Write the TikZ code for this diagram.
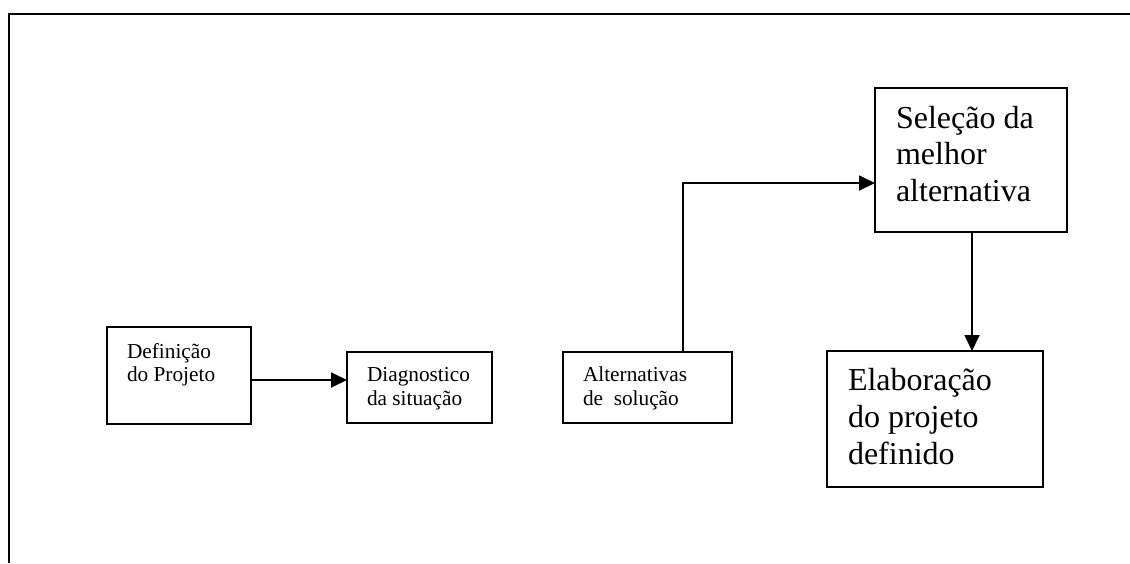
\documentclass[tikz,border=0pt]{standalone}
\usepackage{fontspec}
\setmainfont{Liberation Serif}
\usetikzlibrary{arrows.meta}
\tikzset{
  box/.style={draw, line width=1.8pt, inner sep=0pt, outer sep=0pt, rectangle},
  lbl/.style={anchor=base west, inner sep=0pt, outer sep=0pt},
  smalltxt/.style={font=\fontsize{21.3}{23.5}\selectfont},
  bigtxt/.style={font=\fontsize{32}{36.7}\selectfont},
  conn/.style={line width=1.8pt, -{Triangle[length=16pt,width=15pt]}},
  frame/.style={line width=2.5pt}
}
\newcommand{\tlines}[1]{\begin{tabular}[t]{@{}l@{}}#1\end{tabular}}
\begin{document}
\begin{tikzpicture}[x=1pt,y=-1pt]
\useasboundingbox (0,0) rectangle (1130,563);
% frame
\coordinate (ftr) at (1130,14);
\coordinate (fbl) at (9,563);
\draw[frame] (fbl) |- (ftr);
% boxes
\node[box, minimum width=144pt, minimum height=97pt] (def) at (179,375.5) {};
\node[box, minimum width=145pt, minimum height=71pt] (diag) at (419.5,387.5) {};
\node[box, minimum width=169pt, minimum height=71pt] (alt) at (647.5,387.5) {};
\node[box, minimum width=192pt, minimum height=144pt] (sel) at (971,160) {};
\node[box, minimum width=216pt, minimum height=136pt] (elab) at (935,419) {};
% texts
\node[lbl, smalltxt] (tdef) at (127,358) {\tlines{Definição\\do Projeto}};
\node[lbl, smalltxt] (tdiag) at (367,381.7) {\tlines{Diagnostico\\da situação}};
\node[lbl, smalltxt] (talt) at (583,381.7) {\tlines{Alternativas\\de\ \ solução}};
\node[lbl, bigtxt] (tsel) at (896,128) {\tlines{Seleção da\\melhor\\alternativa}};
\node[lbl, bigtxt] (telab) at (848,390.7) {\tlines{Elaboração\\do projeto\\definido}};
% connectors
\draw[conn] (def.east |- 0,380) -- (diag.west |- 0,380);
\draw[conn] (683,352) |- (sel.west |- 0,183);
\draw[conn] (972,232) -- (elab.north -| 972,0);
\end{tikzpicture}
\end{document}
